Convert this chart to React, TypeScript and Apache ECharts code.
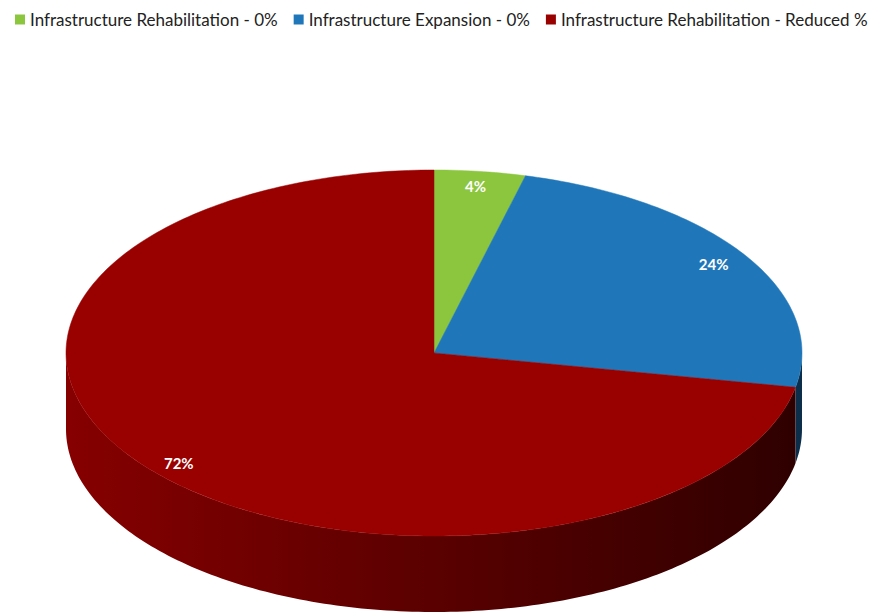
import React, { useEffect, useRef } from "react";
import * as echarts from "echarts";

const categories = [
  "Infrastructure Rehabilitation - 0%",
  "Infrastructure Expansion - 0%",
  "Infrastructure Rehabilitation - Reduced %",
];
const values = [4, 24, 72];
const topColors = ["#8cc63e", "#1f77b9", "#990000"];
const sideColorsLeft = ["#5a8a26", "#15507e", "#860000"];
const sideColorsRight = ["#3f621a", "#0c2e4a", "#2e0000"];

const CX = 434;
const CY = 353;
const RX = 368;
const RY = 183;
const DEPTH = 76;

const total = values.reduce((a, b) => a + b, 0);
const starts: number[] = [];
{
  let acc = 0;
  for (const v of values) {
    starts.push((acc / total) * 360);
    acc += v;
  }
}

function pt(deg: number, fx = 1, fy = 1, dy = 0): number[] {
  const r = (deg * Math.PI) / 180;
  return [CX + RX * fx * Math.sin(r), CY - RY * fy * Math.cos(r) + dy];
}

function makeRender(idx: number) {
  return (params: any, api: any) => {
    const v = api.value(0);
    const a = starts[idx];
    const b = a + (v / total) * 360;
    const children: any[] = [];
    const sa = Math.max(a, 90);
    const sb = Math.min(b, 270);
    if (sb > sa) {
      const pts: number[][] = [];
      const n = Math.max(2, Math.ceil(sb - sa));
      for (let i = 0; i <= n; i++) pts.push(pt(sa + ((sb - sa) * i) / n));
      for (let i = n; i >= 0; i--) pts.push(pt(sa + ((sb - sa) * i) / n, 1, 1, DEPTH));
      children.push({
        type: "polygon",
        shape: { points: pts },
        style: {
          fill: new echarts.graphic.LinearGradient(
            CX - RX, 0, CX + RX, 0,
            [
              { offset: 0, color: sideColorsLeft[idx] },
              { offset: 1, color: sideColorsRight[idx] },
            ],
            true
          ),
          stroke: null,
        },
      });
    }
    const top: number[][] = [[CX, CY]];
    const n = Math.max(2, Math.ceil(b - a));
    for (let i = 0; i <= n; i++) top.push(pt(a + ((b - a) * i) / n));
    children.push({
      type: "polygon",
      shape: { points: top },
      style: { fill: topColors[idx], stroke: topColors[idx], lineWidth: 0.5 },
    });
    const mid = (a + b) / 2;
    const lp = pt(mid, 0.9, 0.93, 2);
    children.push({
      type: "text",
      x: lp[0],
      y: lp[1],
      style: {
        text: Math.round((v / total) * 100) + "%",
        fill: "#ffffff",
        font: "bold 15px Lato, 'Liberation Sans', sans-serif",
        align: "center",
        verticalAlign: "middle",
      },
      z2: 10,
    });
    return { type: "group", children };
  };
}

export default function App() {
  const ref = useRef<HTMLDivElement>(null);
  useEffect(() => {
    document.body.style.margin = "0";
    const chart = echarts.init(ref.current!, undefined, { renderer: "svg" });
    chart.setOption({
      animation: false,
      backgroundColor: "#ffffff",
      legend: {
        top: 6,
        left: 10,
        itemWidth: 10,
        itemHeight: 10,
        itemGap: 16,
        icon: "rect",
        textStyle: {
          fontFamily: "Lato, 'Liberation Sans', sans-serif",
          fontSize: 17,
          color: "#222222",
        },
        data: categories,
      },
      series: categories.map((name, i) => ({
        type: "custom",
        name,
        coordinateSystem: "none",
        itemStyle: { color: topColors[i] },
        data: [[values[i]]],
        renderItem: makeRender(i),
        z: i,
      })),
    });
    return () => chart.dispose();
  }, []);
  return <div ref={ref} style={{ width: 880, height: 613 }} />;
}
